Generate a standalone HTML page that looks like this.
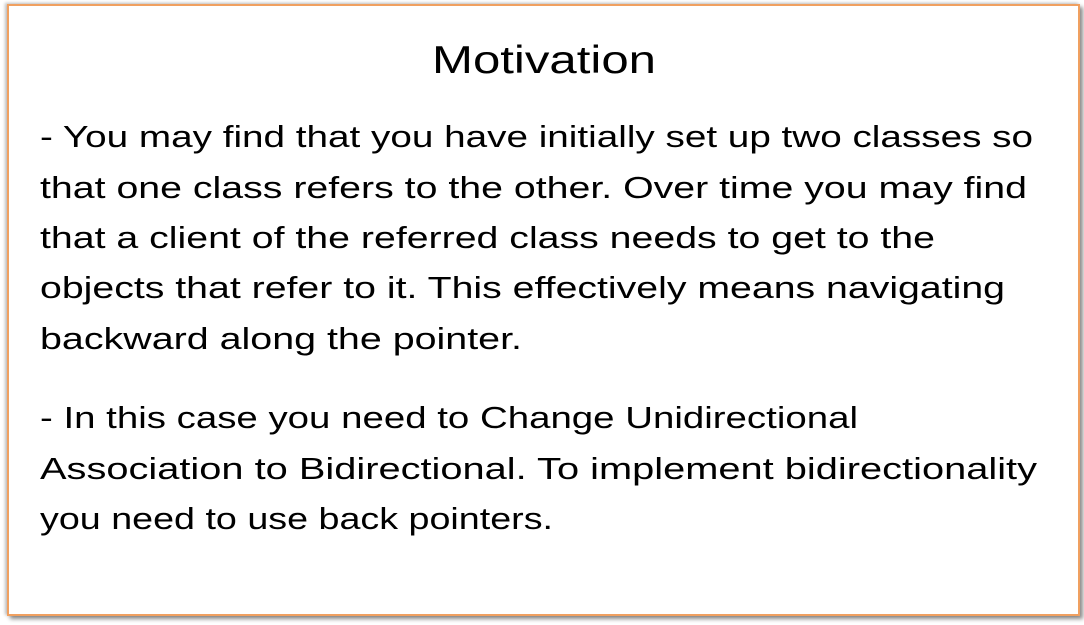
<!DOCTYPE html>
<html><head><meta charset="utf-8"><style>
html,body{margin:0;padding:0;background:#fff;width:1084px;height:625px;overflow:hidden}
#box{position:absolute;left:7px;top:4px;width:1069px;height:608px;border:2px solid #f0a060;box-shadow:3px 3px 4px rgba(0,0,0,0.45),-2px -1px 3px rgba(0,0,0,0.25);background:#fff}
svg{position:absolute;left:0;top:0}
text{font-family:"Liberation Sans",sans-serif;fill:#000}
</style></head><body>
<div id="box"></div>
<svg width="1084" height="625">
<text x="432" y="73" font-size="39" textLength="224" lengthAdjust="spacingAndGlyphs">Motivation</text>
<g font-size="31">
<text x="40" y="147" textLength="993" lengthAdjust="spacingAndGlyphs">- You may find that you have initially set up two classes so</text>
<text x="40" y="198" textLength="987" lengthAdjust="spacingAndGlyphs">that one class refers to the other. Over time you may find</text>
<text x="40" y="248" textLength="895" lengthAdjust="spacingAndGlyphs">that a client of the referred class needs to get to the</text>
<text x="40" y="298" textLength="965" lengthAdjust="spacingAndGlyphs">objects that refer to it. This effectively means navigating</text>
<text x="40" y="349" textLength="482" lengthAdjust="spacingAndGlyphs">backward along the pointer.</text>
</g>
<g font-size="31">
<text x="40" y="428" textLength="818" lengthAdjust="spacingAndGlyphs">- In this case you need to Change Unidirectional</text>
<text x="40" y="479" textLength="997" lengthAdjust="spacingAndGlyphs">Association to Bidirectional. To implement bidirectionality</text>
<text x="40" y="529" textLength="513" lengthAdjust="spacingAndGlyphs">you need to use back pointers.</text>
</g>
</svg>
</body></html>
